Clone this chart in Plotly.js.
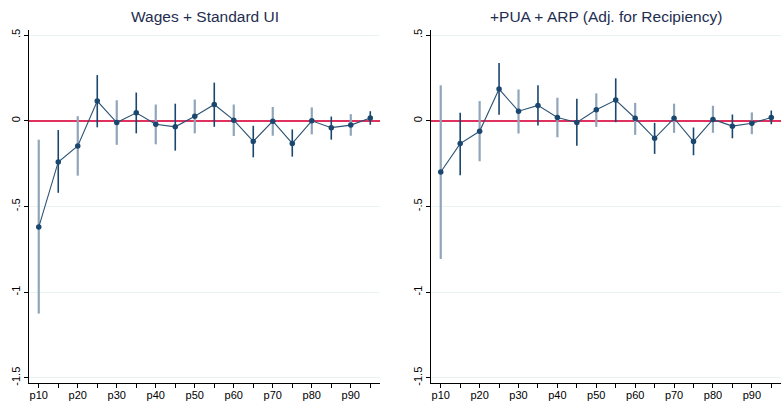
<!DOCTYPE html>
<html><head><meta charset="utf-8">
<script src="https://cdn.plot.ly/plotly-3.0.1.min.js"></script>
<style>html,body{margin:0;padding:0;background:#fff}#chart{width:781px;height:401px}</style>
</head><body><div id="chart"></div>
<script>
// Percentile positions and labels
const pct = [10,15,20,25,30,35,40,45,50,55,60,65,70,75,80,85,90,95];
const tickLabels = ["p10","","p20","","p30","","p40","","p50","","p60","","p70","","p80","","p90",""];
const panelTitles = ["Wages + Standard UI", "+PUA + ARP (Adj. for Recipiency)"];

// Panel 1: Wages + Standard UI
const est1 = [-0.62,-0.24,-0.147,0.115,-0.01,0.047,-0.02,-0.035,0.027,0.095,0.004,-0.12,-0.002,-0.132,0.0,-0.04,-0.025,0.016];
const lo1  = [-1.125,-0.42,-0.32,-0.038,-0.14,-0.073,-0.137,-0.174,-0.073,-0.035,-0.089,-0.213,-0.087,-0.209,-0.079,-0.11,-0.087,-0.023];
const hi1  = [-0.11,-0.054,0.027,0.267,0.12,0.165,0.095,0.1,0.124,0.223,0.095,-0.029,0.081,-0.05,0.078,0.025,0.039,0.056];

// Panel 2: +PUA + ARP (Adj. for Recipiency)
const est2 = [-0.299,-0.133,-0.061,0.185,0.056,0.09,0.019,-0.01,0.064,0.121,0.015,-0.102,0.015,-0.121,0.008,-0.031,-0.014,0.019];
const lo2  = [-0.806,-0.318,-0.236,0.035,-0.074,-0.028,-0.096,-0.145,-0.035,-0.008,-0.082,-0.193,-0.07,-0.201,-0.07,-0.102,-0.078,-0.02];
const hi2  = [0.207,0.047,0.115,0.337,0.183,0.208,0.135,0.129,0.16,0.248,0.105,-0.012,0.1,-0.039,0.088,0.037,0.049,0.06];

const NAVY = "#1a476f", LIGHT = "#8fa5ba", LINE = "#2c5274", RED = "#e0305e";

function ciTraces(est, lo, hi, xa, ya) {
  const traces = [];
  [0,1].forEach(parity => {
    const xs=[], ys=[], up=[], dn=[];
    pct.forEach((p,i) => {
      if (i % 2 === parity) { xs.push(p); ys.push(est[i]); up.push(hi[i]-est[i]); dn.push(est[i]-lo[i]); }
    });
    traces.push({
      x: xs, y: ys, xaxis: xa, yaxis: ya, type: "scatter", mode: "markers",
      marker: {size: 1, opacity: 0},
      error_y: {type: "data", symmetric: false, array: up, arrayminus: dn,
                color: parity === 0 ? LIGHT : NAVY, thickness: parity === 0 ? 2.2 : 1.6, width: 0},
      hoverinfo: "skip", showlegend: false
    });
  });
  traces.push({
    x: pct, y: est, xaxis: xa, yaxis: ya, type: "scatter", mode: "lines+markers",
    line: {color: LINE, width: 1.1}, marker: {color: NAVY, size: 5.5},
    showlegend: false
  });
  return traces;
}

const data = [].concat(ciTraces(est1, lo1, hi1, "x", "y"), ciTraces(est2, lo2, hi2, "x2", "y2"));

const fontFam = "Liberation Sans, Arial, sans-serif";
const xBase = {
  range: [7.5, 97.5], tickmode: "array", tickvals: pct, ticktext: tickLabels,
  ticks: "outside", ticklen: 4, tickwidth: 1, tickcolor: "#000",
  showline: true, linecolor: "#000", linewidth: 1, showgrid: false, zeroline: false,
  tickangle: 0, ticklabelstandoff: -2, tickfont: {family: fontFam, size: 11, color: "#000"}
};
const yBase = {
  range: [-1.53, 0.53], tickmode: "array", tickvals: [-1.5,-1,-0.5,0,0.5],
  ticktext: ["-1.5","-1","-.5","0",".5"], tickangle: -90,
  ticks: "outside", ticklen: 4, tickwidth: 1, tickcolor: "#000",
  showline: true, linecolor: "#000", linewidth: 1,
  showgrid: true, gridcolor: "#eaf2f3", gridwidth: 1,
  zeroline: true, zerolinecolor: RED, zerolinewidth: 1.5,
  tickfont: {family: fontFam, size: 11, color: "#000"}
};

const layout = {
  width: 781, height: 401,
  margin: {l: 29, r: 0, t: 30, b: 18},
  paper_bgcolor: "#fff", plot_bgcolor: "#fff",
  showlegend: false,
  xaxis: Object.assign({}, xBase, {domain: [0, 0.4668], anchor: "y"}),
  yaxis: Object.assign({}, yBase, {anchor: "x"}),
  xaxis2: Object.assign({}, xBase, {domain: [0.5346, 1], anchor: "y2"}),
  yaxis2: Object.assign({}, yBase, {anchor: "x2"}),
  annotations: [
    {text: panelTitles[0], xref: "x domain", yref: "paper", x: 0.5, y: 1, yshift: 3, yanchor: "bottom", showarrow: false,
     font: {family: fontFam, size: 15.5, color: "#1e2d50"}},
    {text: panelTitles[1], xref: "x2 domain", yref: "paper", x: 0.5, y: 1, yshift: 3, yanchor: "bottom", showarrow: false,
     font: {family: fontFam, size: 15.5, color: "#1e2d50"}}
  ]
};

Plotly.newPlot("chart", data, layout, {staticPlot: true, displayModeBar: false});
</script></body></html>
